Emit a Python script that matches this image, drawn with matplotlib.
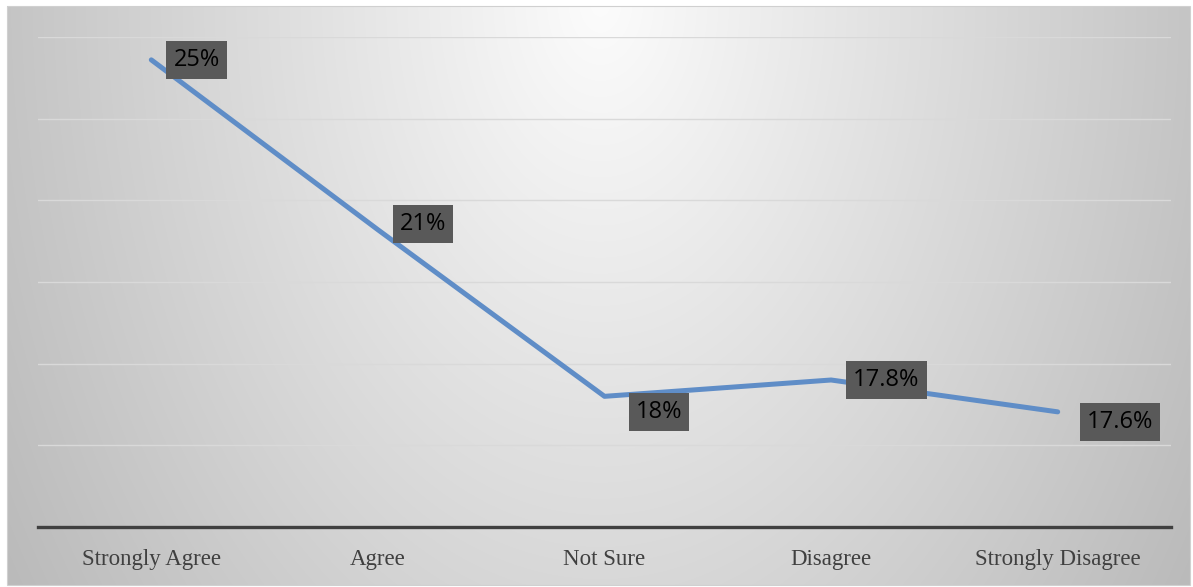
import numpy as np
import matplotlib
matplotlib.use("Agg")
import matplotlib.pyplot as plt

# ── Dados ─────────────────────────────────────────────────────────────────────
categorias = ["Strongly Agree", "Agree", "Not Sure", "Disagree", "Strongly Disagree"]
valores = [28.6, 18.2, 8.0, 9.0, 7.05]          # altura plotada
rotulos = ["25%", "21%", "18%", "17.8%", "17.6%"]  # rótulos exibidos

# deslocamento dos rótulos (px): dx até a borda da caixa, dy (para baixo)
desl_x = [15, 15, 24, 15, 22]
desl_y = [0, -6, 16, 0, 10]

W, H, DPI = 1193, 587, 100
AZUL = "#5f8dc7"
CAIXA = "#595959"

fig = plt.figure(figsize=(W / DPI, H / DPI), dpi=DPI, facecolor="white")

# ── Fundo com gradiente ───────────────────────────────────────────────────────
x0, y0, x1, y1 = 7, 6, 1190, 585
bg = fig.add_axes([x0 / W, 1 - y1 / H, (x1 - x0) / W, (y1 - y0) / H], zorder=0)
xx, yy = np.meshgrid(np.arange(x0, x1), np.arange(y0, y1))
t = np.sqrt(((xx - 600) / 600) ** 2 + (yy / 900) ** 2)
v = np.clip(252 - 56 * t, 185, 252) / 255
bg.imshow(np.dstack([v, v, v]), aspect="auto", interpolation="bilinear")
bg.set_axis_off()
fig.add_artist(plt.Rectangle((x0 / W, 1 - y1 / H), (x1 - x0) / W, (y1 - y0) / H,
                             transform=fig.transFigure, fill=False, ec="#d0d0d0", lw=0.8))

# ── Gráfico ───────────────────────────────────────────────────────────────────
ax = fig.add_axes([38 / W, 1 - 527 / H, (1171 - 38) / W, (527 - 37) / H], zorder=1)
ax.patch.set_alpha(0)
x = np.arange(len(categorias))
ax.plot(x, valores, color=AZUL, lw=3.6, solid_capstyle="round", solid_joinstyle="round", zorder=3)
ax.set_xlim(-0.5, len(categorias) - 0.5)
ax.set_ylim(0, 30)
ax.set_yticks(np.arange(5, 31, 5))
ax.yaxis.grid(True, color="#d9d9d9", lw=1.0)
ax.tick_params(axis="y", left=False, labelleft=False)
ax.tick_params(axis="x", length=0, pad=16, labelsize=16.5, labelcolor="#404040")
ax.set_xticks(x)
ax.set_xticklabels(categorias, family="Liberation Serif")
for s in ["top", "right", "left"]:
    ax.spines[s].set_visible(False)
ax.spines["bottom"].set_color("#404040")
ax.spines["bottom"].set_linewidth(2.4)

px = 72 / DPI  # px -> pt
pad = 0.3
fs = 17
for xi, yi, r, dx, dy in zip(x, valores, rotulos, desl_x, desl_y):
    ax.annotate(r, (xi, yi), xytext=((dx + pad * fs / px) * px, -dy * px),
                textcoords="offset points", ha="left", va="center",
                fontsize=fs, family="Open Sans", color="black", zorder=4,
                bbox=dict(boxstyle=f"square,pad={pad}", fc=CAIXA, ec="none"))

fig.savefig("out.png", dpi=DPI, facecolor="white")
